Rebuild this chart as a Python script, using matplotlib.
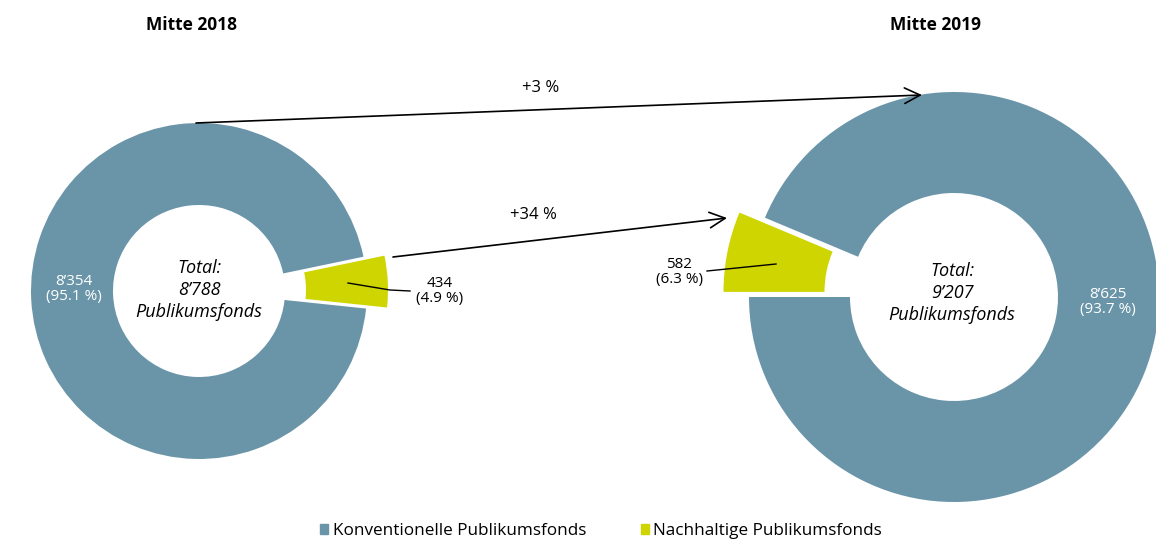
import matplotlib
matplotlib.use("Agg")
import matplotlib.pyplot as plt
from matplotlib.patches import Patch

plt.rcParams['font.family'] = ['Open Sans', 'DejaVu Sans']

# ---- data ----
years = ["Mitte 2018", "Mitte 2019"]
konventionell = [8354, 8625]
nachhaltig = [434, 582]
totals = ["8’788", "9’207"]
konv_labels = ["8’354\n(95.1 %)", "8’625\n(93.7 %)"]
nach_labels = ["434\n(4.9 %)", "582\n(6.3 %)"]
growth_labels = ["+3 %", "+34 %"]
series_names = ["Konventionelle Publikumsfonds", "Nachhaltige Publikumsfonds"]

BLUE = "#6A95A9"
GREEN = "#CFD500"

W, H = 1156, 543
fig = plt.figure(figsize=(W / 100, H / 100), dpi=100)
ax = fig.add_axes([0, 0, 1, 1])


def Y(y):
    return H - y


# donut geometry (pixel units, image coordinates)
centers = [(199, 291), (954, 297)]
radii = [168, 205]
holes = [86, 104]
starts = [-6.0, 180 - 360 * nachhaltig[1] / (nachhaltig[1] + konventionell[1])]
explodes = [21, 26]

for i in range(2):
    cx, cy = centers[i]
    R, r = radii[i], holes[i]
    ax.pie([nachhaltig[i], konventionell[i]], colors=[GREEN, BLUE],
           startangle=starts[i], counterclock=True, radius=R,
           center=(cx, Y(cy)), explode=[explodes[i], 0],
           wedgeprops=dict(width=R - r, linewidth=0), frame=True)

ax.set_xlim(0, W)
ax.set_ylim(0, H)
ax.set_aspect('equal', adjustable='box')
ax.axis('off')

# titles
ax.text(192, Y(25), years[0], ha='center', va='center', fontsize=12.5, fontweight='bold')
ax.text(935, Y(25), years[1], ha='center', va='center', fontsize=12.5, fontweight='bold')

# center texts
ax.text(199, Y(290), f"Total:\n{totals[0]}\nPublikumsfonds", ha='center', va='center',
        fontsize=13, style='italic', linespacing=1.3)
ax.text(952, Y(293), f"Total:\n{totals[1]}\nPublikumsfonds", ha='center', va='center',
        fontsize=13, style='italic', linespacing=1.3)

# value labels
ax.text(74, Y(289), konv_labels[0], ha='center', va='center', fontsize=11, color='white', linespacing=1.05)
ax.text(1108, Y(302), konv_labels[1], ha='center', va='center', fontsize=11, color='white', linespacing=1.05)
ax.text(440, Y(291), nach_labels[0], ha='center', va='center', fontsize=11, linespacing=1.05)
ax.text(679, Y(272), nach_labels[1], ha='center', va='center', fontsize=11, linespacing=1.05)

# leader lines
ax.plot([348, 390, 410], [Y(283), Y(290), Y(291)], color='black', lw=1)
ax.plot([776, 707], [Y(264), Y(271)], color='black', lw=1)

# growth arrows
ap = dict(arrowstyle="->", lw=1.2, color='black', mutation_scale=28, shrinkA=0, shrinkB=0)
ax.annotate("", xy=(922, Y(95)), xytext=(196, Y(123)), arrowprops=ap)
ax.annotate("", xy=(727, Y(218)), xytext=(393, Y(257)), arrowprops=ap)
ax.text(541, Y(88), growth_labels[0], ha='center', va='center', fontsize=12)
ax.text(533, Y(215), growth_labels[1], ha='center', va='center', fontsize=12)

# legend
handles = [Patch(color=BLUE, label=series_names[0]), Patch(color=GREEN, label=series_names[1])]
fig.legend(handles=handles, loc='center', bbox_to_anchor=(601 / W, 1 - 531 / H), ncol=2,
           frameon=False, fontsize=12.3, handlelength=0.5, handleheight=0.5,
           handletextpad=0.25, columnspacing=3.2, borderpad=0)

fig.savefig("out.png", dpi=100)
